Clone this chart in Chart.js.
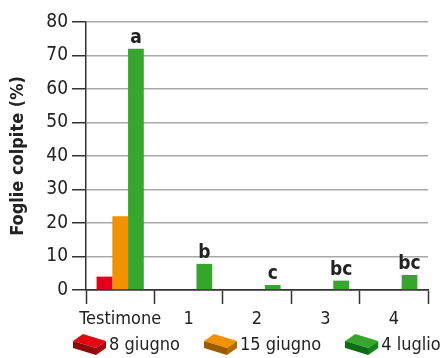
<!DOCTYPE html>
<html>
<head>
<meta charset="utf-8">
<script src="https://cdn.jsdelivr.net/npm/chart.js@4"></script>
<style>
  html, body { margin: 0; padding: 0; background: #fff; }
  canvas { display: block; }
</style>
</head>
<body>
<canvas id="grafico" width="441" height="358"></canvas>
<script>
// Dati
const categorie = ['Testimone', '1', '2', '3', '4'];
const giugno8 = [4, null, null, null, null];
const giugno15 = [22, null, null, null, null];
const luglio4 = [72, 7.8, 1.5, 2.8, 4.5];
const lettere = ['a', 'b', 'c', 'bc', 'bc'];
const tickY = [0, 10, 20, 30, 40, 50, 60, 70, 80];

const FONT = "'DejaVu Sans', sans-serif";
const STRETTO = 'condensed'; // font-stretch passato dentro il peso

// Icona "mattoncino" per la legenda
function mattone(chiaro, scuro, lato) {
    const c = document.createElement('canvas');
    c.width = 34;
    c.height = 22;
    const g = c.getContext('2d');
    // faccia superiore
    g.fillStyle = chiaro;
    g.beginPath();
    g.moveTo(0, 8); g.lineTo(10, 1); g.lineTo(33, 8); g.lineTo(23, 15);
    g.closePath(); g.fill();
    // faccia frontale
    g.fillStyle = scuro;
    g.beginPath();
    g.moveTo(0, 8); g.lineTo(23, 15); g.lineTo(23, 22); g.lineTo(0, 15);
    g.closePath(); g.fill();
    // lato destro
    g.fillStyle = lato;
    g.beginPath();
    g.moveTo(23, 15); g.lineTo(33, 8); g.lineTo(33, 15); g.lineTo(23, 22);
    g.closePath(); g.fill();
    return c;
}

const icone = [
    mattone('#e30613', '#8c0a0a', '#a30d0d'),
    mattone('#f39200', '#9a5a00', '#b06a00'),
    mattone('#37a62d', '#0f6a15', '#15801c')
];

// Lettere sopra le barre verdi
const pluginLettere = {
    id: 'lettere',
    afterDatasetsDraw(chart) {
        const ctx = chart.ctx;
        const meta = chart.getDatasetMeta(2);
        ctx.save();
        ctx.font = 'bold condensed 19px ' + FONT;
        ctx.fillStyle = '#222';
        ctx.textAlign = 'center';
        ctx.textBaseline = 'bottom';
        meta.data.forEach((bar, i) => {
            ctx.fillText(lettere[i], bar.x, bar.y - 1);
        });
        ctx.restore();
    }
};

// Legenda disegnata a mano (spaziatura come nell'originale)
const pluginLegenda = {
    id: 'legendaMattoni',
    afterDraw(chart) {
        const ctx = chart.ctx;
        let x = 73;
        const cy = 344;
        ctx.save();
        ctx.font = 'condensed 18px ' + FONT;
        ctx.fillStyle = '#222';
        ctx.textAlign = 'left';
        ctx.textBaseline = 'middle';
        chart.data.datasets.forEach((ds, i) => {
            ctx.drawImage(icone[i], x, cy - 11);
            ctx.fillText(ds.label, x + 36, cy + 1);
            x += 36 + ctx.measureText(ds.label).width + 24;
        });
        ctx.restore();
    }
};

const ctx = document.getElementById('grafico').getContext('2d');

window.graficoFoglie = new Chart(ctx, {
    type: 'bar',
    data: {
        labels: categorie,
        datasets: [
            { label: '8 giugno', data: giugno8, backgroundColor: '#e2001a' },
            { label: '15 giugno', data: giugno15, backgroundColor: '#f39200' },
            { label: '4 luglio', data: luglio4, backgroundColor: '#37a62d' }
        ]
    },
    options: {
        responsive: false,
        animation: false,
        layout: { padding: { top: 22, right: 13, left: 0, bottom: 32 } },
        datasets: {
            bar: { categoryPercentage: 0.69, barPercentage: 1.0 }
        },
        plugins: {
            tooltip: { enabled: false },
            legend: { display: false }
        },
        scales: {
            x: {
                afterFit(scale) { scale.height = 36; },
                grid: {
                    display: true,
                    drawOnChartArea: false,
                    drawTicks: true,
                    tickLength: 14,
                    tickColor: '#333',
                    tickWidth: 1.5
                },
                border: { color: '#333', width: 1.5 },
                ticks: {
                    color: '#222',
                    padding: 5,
                    maxRotation: 0,
                    autoSkip: false,
                    font: { family: FONT, size: 18, weight: STRETTO }
                }
            },
            y: {
                min: 0,
                max: 80,
                afterFit(scale) { scale.width = 86; },
                afterBuildTicks(scale) {
                    scale.ticks = tickY.map(v => ({ value: v }));
                },
                grid: {
                    color: ctx => ctx.tick && ctx.tick.value === 0 ? '#333' : '#a8a8a8',
                    lineWidth: 1.5,
                    tickLength: 14,
                    tickColor: '#333',
                    tickWidth: 1.5
                },
                border: { color: '#333', width: 1.5 },
                ticks: {
                    color: '#222',
                    padding: 4,
                    font: { family: FONT, size: 19, weight: STRETTO }
                },
                title: {
                    display: true,
                    text: 'Foglie colpite (%)',
                    color: '#222',
                    padding: { top: 8, bottom: 0 },
                    font: { family: FONT, size: 18, weight: 'bold ' + STRETTO }
                }
            }
        }
    },
    plugins: [pluginLettere, pluginLegenda]
});
</script>
</body>
</html>
